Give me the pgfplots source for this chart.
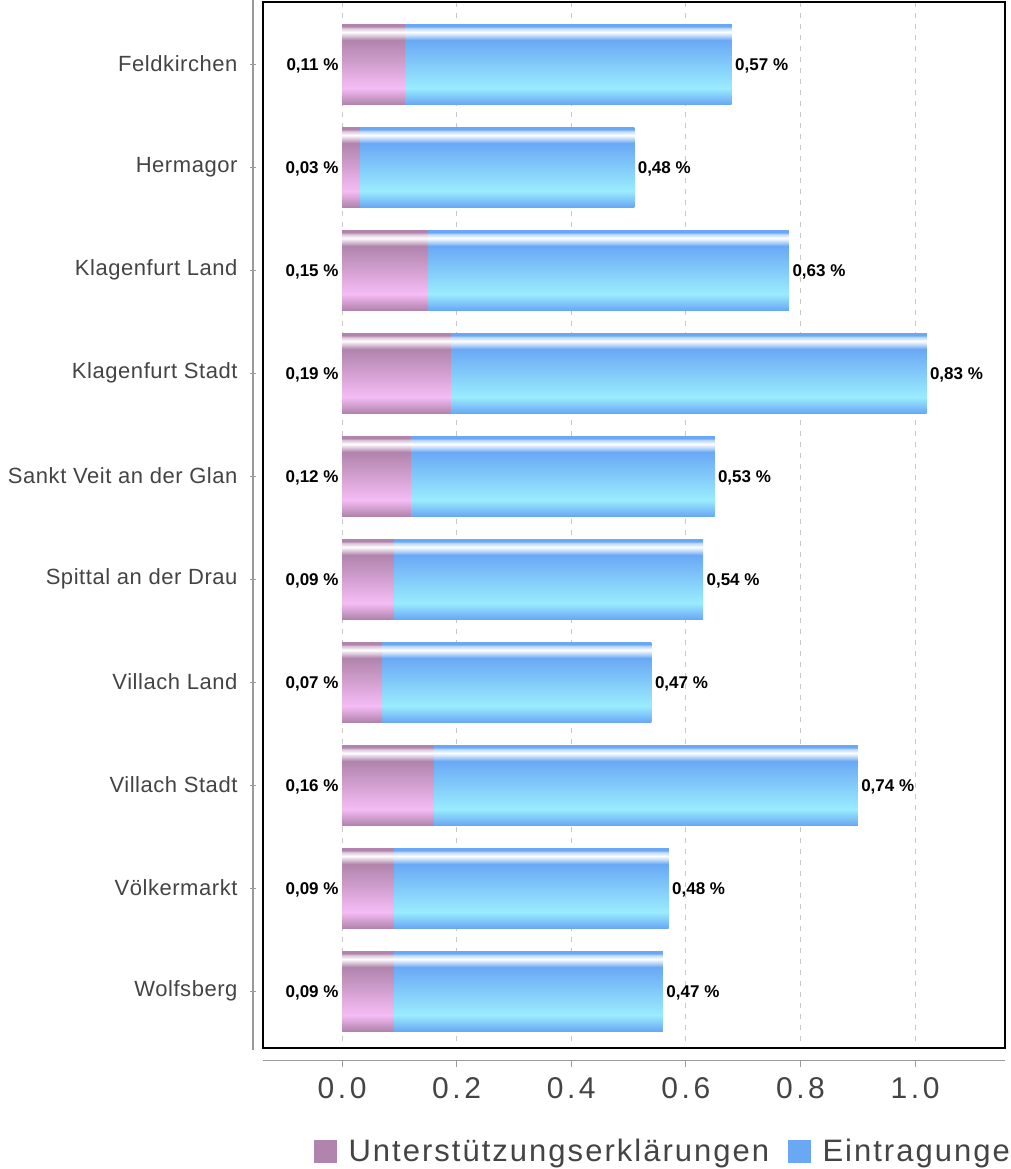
\documentclass[border=0pt]{standalone}
\usepackage{fontspec}
\setmainfont{Liberation Sans}
\newfontfamily\tickfont[LetterSpace=12]{Liberation Sans}
\newfontfamily\legfont[LetterSpace=6.5]{Liberation Sans}
\newfontfamily\catfont[LetterSpace=2.5]{Liberation Sans}
\usepackage{pgfplots}
\usepackage{pgfplotstable}
\pgfplotsset{compat=1.18}

\definecolor{mauve}{HTML}{B084AC}
\definecolor{lpink}{HTML}{F5BCF5}
\definecolor{mauvew}{HTML}{D8C2D6}
\definecolor{bblue}{HTML}{6AA8F5}
\definecolor{lcyan}{HTML}{9AECFE}
\definecolor{bbluew}{HTML}{B8D6FA}
\definecolor{txt}{HTML}{444444}
\definecolor{gridc}{HTML}{C8C8C8}
\definecolor{axgray}{HTML}{9A9A9A}

\tikzset{valnum/.style={font=\bfseries\fontsize{17}{20}\selectfont, text=black, yshift=-1.5pt}}

\pgfdeclareverticalshading{pinkbar}{100bp}{color(0bp)=(mauve); color(25bp)=(mauve); color(35bp)=(lpink); color(65bp)=(mauve); color(67.5bp)=(mauvew); color(70bp)=(white); color(72.5bp)=(mauvew); color(73.5bp)=(mauve); color(100bp)=(mauve)}
\pgfdeclareverticalshading{bluebar}{100bp}{color(0bp)=(bblue); color(25bp)=(bblue); color(35bp)=(lcyan); color(65bp)=(bblue); color(67.5bp)=(bbluew); color(70bp)=(white); color(72.5bp)=(bbluew); color(73.5bp)=(bblue); color(100bp)=(bblue)}

% y = category index, u = Unterstützungserklärungen, e = Eintragungen (in %)
\pgfplotstableread{
y u e
0 0.11 0.57
1 0.03 0.48
2 0.15 0.63
3 0.19 0.83
4 0.12 0.53
5 0.09 0.54
6 0.07 0.47
7 0.16 0.74
8 0.09 0.48
9 0.09 0.47
}\data

\begin{document}
\begin{tikzpicture}
\begin{axis}[
  at={(0pt,0pt)}, anchor=south west,
  scale only axis, width=742pt, height=1046pt,
  xmin=-0.138, xmax=1.157, ymin=-0.602, ymax=9.553, y dir=reverse,
  axis line style={black, line width=1.3pt},
  xtick={0,0.2,0.4,0.6,0.8,1},
  xticklabels={0.0,0.2,0.4,0.6,0.8,1.0},
  ytick={0,1,2,3,4,5,6,7,8,9},
  yticklabels={Feldkirchen,Hermagor,Klagenfurt Land,Klagenfurt Stadt,Sankt Veit an der Glan,Spittal an der Drau,Villach Land,Villach Stadt,Völkermarkt,Wolfsberg},
  xtick pos=bottom, ytick pos=left,
  x tick style={axgray, line width=1pt, yshift=-13pt},
  y tick style={axgray, line width=1pt, xshift=-10pt},
  xtick align=outside, ytick align=center,
  major tick length=6pt,
  xmajorgrids, major grid style={gridc, line width=0.8pt, dash pattern=on 5pt off 6pt},
  xticklabel style={font=\tickfont\fontsize{30}{36}\selectfont, text=txt, yshift=-20pt},
  yticklabel style={font=\catfont\fontsize{22}{26}\selectfont, text=txt, xshift=-19pt},
  legend style={draw=none, fill=none, inner sep=0pt,
    at={(axis description cs:0.0687,-0.0985)}, anchor=west,
    font=\legfont\fontsize{31}{37}\selectfont, text=txt,
    /tikz/column 1/.style={column sep=10pt},
    /tikz/column 2/.style={column sep=17pt},
    /tikz/column 3/.style={column sep=10pt}},
  legend columns=2,
]
\addlegendimage{legend image code/.code={\fill[mauve] (0pt,-11pt) rectangle (22pt,11pt);}}
\addlegendentry{Unterstützungserklärungen}
\addlegendimage{legend image code/.code={\fill[bblue] (0pt,-11pt) rectangle (22pt,11pt);}}
\addlegendentry{Eintragungen}

% one bar per category so that each bar gets its own shading:
% the Eintragungen bar runs on from the end of the Unterstützungserklärungen bar
\pgfplotsinvokeforeach{0,...,9}{
  \addplot[xbar, bar width=80pt, bar shift=0pt, draw=none, fill=bblue, shade, shading=bluebar,
    x filter/.code={\ifnum\coordindex=#1\relax\else\def\pgfmathresult{}\fi}]
    table[x expr=\thisrow{u}+\thisrow{e}, y=y] {\data};
  \addplot[xbar, bar width=80pt, bar shift=0pt, draw=none, fill=mauve, shade, shading=pinkbar,
    x filter/.code={\ifnum\coordindex=#1\relax\else\def\pgfmathresult{}\fi}]
    table[x=u, y=y] {\data};
}

% value labels
\addplot[draw=none, mark=none, point meta=\thisrow{u},
  nodes near coords={\pgfmathprintnumber[fixed,fixed zerofill,precision=2,use comma,assume math mode=true]{\pgfplotspointmeta}~\%},
  nodes near coords style={anchor=east, valnum}]
  table[x expr=0, y=y] {\data};
\addplot[draw=none, mark=none, point meta=\thisrow{e},
  nodes near coords={\pgfmathprintnumber[fixed,fixed zerofill,precision=2,use comma,assume math mode=true]{\pgfplotspointmeta}~\%},
  nodes near coords style={anchor=west, valnum}]
  table[x expr=\thisrow{u}+\thisrow{e}, y=y] {\data};
\end{axis}
% offset grey axis lines
\draw[axgray, line width=1pt] (-10pt,-2pt) -- (-10pt,1048pt);
\draw[axgray, line width=1pt] (0pt,-13pt) -- (742pt,-13pt);
\pgfresetboundingbox
\path[use as bounding box] (-263pt,-121pt) rectangle (748pt,1048pt);
\end{tikzpicture}
\end{document}
